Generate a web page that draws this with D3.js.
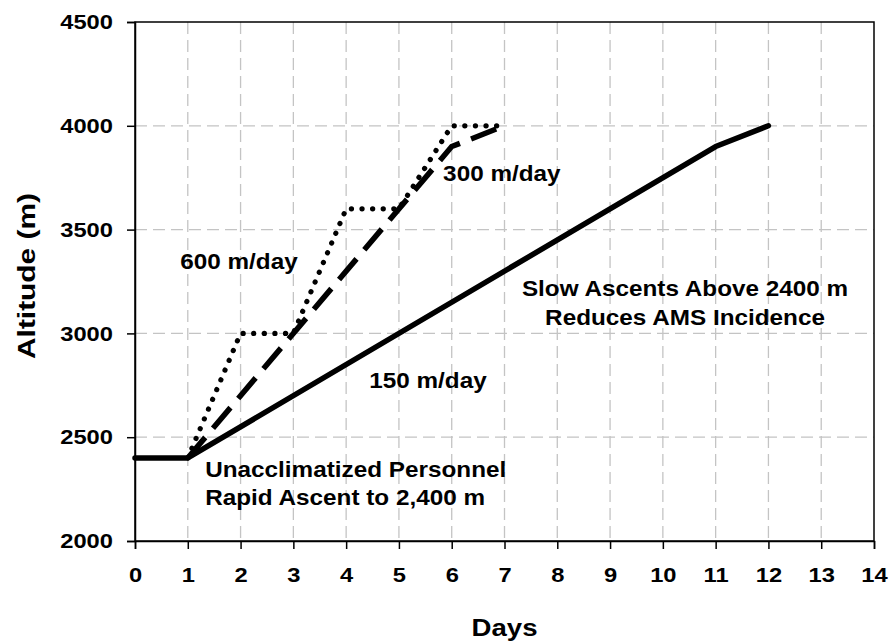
<!DOCTYPE html>
<html><head><meta charset="utf-8">
<script src="https://cdn.jsdelivr.net/npm/d3@7"></script>
<style>
body{margin:0;background:#fff;}
text{font-family:"Liberation Sans",Arial,sans-serif;font-weight:bold;fill:#000;}
</style></head>
<body><svg id="c" width="891" height="642"></svg>
<script>
const xTicks = [0,1,2,3,4,5,6,7,8,9,10,11,12,13,14];
const yTicks = [2000,2500,3000,3500,4000,4500];
const days150 = [0,1,11,12];
const alt150 = [2400,2400,3900,4000];
const days300 = [1,6,7];
const alt300 = [2400,3900,4000];
const days600 = [1,2,3,4,5,6,7];
const alt600 = [2400,3000,3000,3600,3600,4000,4000];
const labels = [
  {t:["600 m/day"], d:1.97, a:3345, anchor:"middle"},
  {t:["300 m/day"], d:6.95, a:3770, anchor:"middle"},
  {t:["150 m/day"], d:5.55, a:2775, anchor:"middle"},
  {t:["Slow Ascents Above 2400 m","Reduces AMS Incidence"], d:10.42, a:3215, anchor:"middle"},
  {t:["Unacclimatized Personnel","Rapid Ascent to 2,400 m"], d:1.33, a:2345, anchor:"start"}
];

const SX = 1.13;
const svg = d3.select("#c");
const m = {l:135, r:874, t:22, b:541};
const x = d3.scaleLinear().domain([0,14]).range([m.l,m.r]);
const y = d3.scaleLinear().domain([2000,4500]).range([m.b,m.t]);

// grid
const g = svg.append("g");
g.selectAll(".vg").data(xTicks.slice(1,-1)).enter().append("line")
  .attr("x1",d=>x(d)).attr("x2",d=>x(d)).attr("y1",m.t).attr("y2",m.b)
  .attr("stroke","#c4c4c4").attr("stroke-width",1.3).attr("stroke-dasharray","12,6");
g.selectAll(".hg").data(yTicks.slice(1,-1)).enter().append("line")
  .attr("y1",d=>y(d)).attr("y2",d=>y(d)).attr("x1",m.l).attr("x2",m.r)
  .attr("stroke","#c4c4c4").attr("stroke-width",1.3).attr("stroke-dasharray","12,6");

// frame
svg.append("rect").attr("x",m.l).attr("y",m.t).attr("width",m.r-m.l).attr("height",m.b-m.t)
  .attr("fill","none").attr("stroke","#000").attr("stroke-width",1.5);

// axes
const xa = svg.append("g").attr("transform",`translate(0,${m.b})`)
  .call(d3.axisBottom(x).tickValues(xTicks).tickFormat(d3.format("d")).tickSize(8).tickPadding(18));
const ya = svg.append("g").attr("transform",`translate(${m.l},0)`)
  .call(d3.axisLeft(y).tickValues(yTicks).tickFormat(d3.format("d")).tickSize(8).tickPadding(14));
[xa,ya].forEach(a=>{
  a.select(".domain").attr("stroke","#000").attr("stroke-width",1.5);
  a.selectAll(".tick line").attr("stroke","#000").attr("stroke-width",1.5);
  a.selectAll("text").attr("font-size",21).attr("font-family","Liberation Sans, Arial, sans-serif").attr("font-weight","bold").attr("fill","#000");
});
xa.selectAll("text").attr("dy","0.71em").attr("transform",`scale(${SX},1)`);
ya.selectAll("text").attr("x",0).attr("transform",`translate(-22,0) scale(${SX},1)`);

// lines
const line = d3.line().x(d=>x(d[0])).y(d=>y(d[1]));
function series(ds,as){return ds.map((d,i)=>[d,as[i]]);}
svg.append("path").datum(series(days600,alt600)).attr("d",line)
  .attr("fill","none").attr("stroke","#000").attr("stroke-width",5.2)
  .attr("stroke-linecap","round").attr("stroke-dasharray","0.1,10.5");
svg.append("path").datum(series(days300,alt300)).attr("d",line)
  .attr("fill","none").attr("stroke","#000").attr("stroke-width",5.5)
  .attr("stroke-dasharray","27,12");
svg.append("path").datum(series(days150,alt150)).attr("d",line)
  .attr("fill","none").attr("stroke","#000").attr("stroke-width",5.5)
  .attr("stroke-linecap","round").attr("stroke-linejoin","round");

// annotations
labels.forEach(L=>{
  const gg = svg.append("g").attr("transform",`translate(${x(L.d)},${y(L.a)}) scale(${SX},1)`);
  const t = gg.append("text").attr("x",0).attr("y",0)
    .attr("text-anchor",L.anchor).attr("font-size",21.5);
  L.t.forEach((s,i)=>t.append("tspan").attr("x",0).attr("dy",i===0?"0.35em":"1.32em").text(s));
});

// axis titles
svg.append("g").attr("transform",`translate(${(m.l+m.r)/2},628) scale(1.2,1)`)
  .append("text").attr("dy","0.35em").attr("text-anchor","middle").attr("font-size",23).text("Days");
svg.append("g").attr("transform","translate(27,276) rotate(-90) scale(1.3,1)")
  .append("text").attr("dy","0.35em").attr("text-anchor","middle").attr("font-size",23).text("Altitude (m)");
</script></body></html>
